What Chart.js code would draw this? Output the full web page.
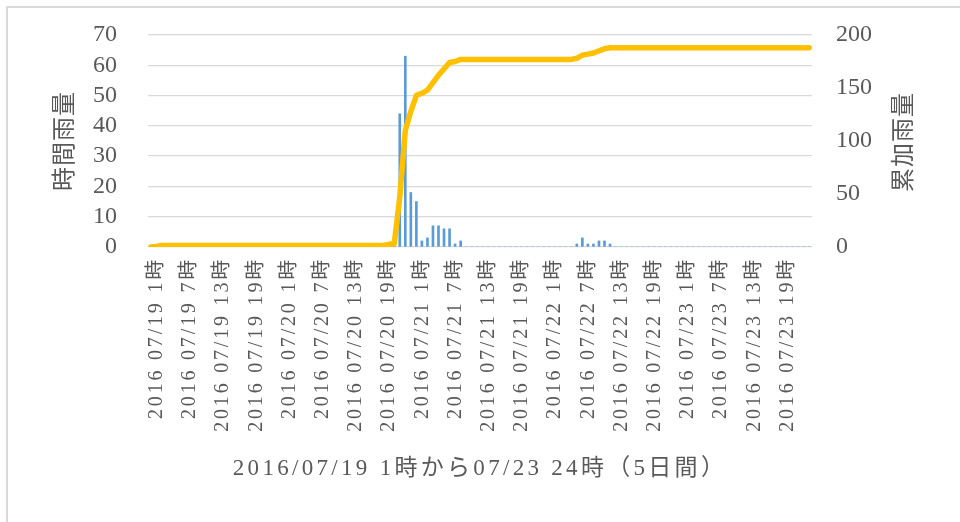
<!DOCTYPE html>
<html>
<head>
<meta charset="utf-8">
<script src="https://cdn.jsdelivr.net/npm/chart.js@4/dist/chart.umd.min.js"></script>
<style>
  html, body { margin: 0; padding: 0; background: #fff; }
  #wrap { position: relative; width: 960px; height: 522px; }
  #frame { position: absolute; left: 6px; top: 6px; right: -4px; bottom: -4px;
           border-left: 2px solid #d9d9d9; border-top: 2px solid #d9d9d9; }
  canvas { position: absolute; left: 0; top: 0; }
</style>
</head>
<body>
<div id="wrap">
  <div id="frame"></div>
  <canvas id="chart" width="960" height="522"></canvas>
</div>
<script>
// 2016/07/19 1時 - 07/23 24時, hourly
const days = ['07/19', '07/20', '07/21', '07/22', '07/23'];
const hoursPerDay = 24;

// 時間雨量 (mm), one row per day, hours 1..24
const hourlyRain = [
  0, 0.5, 1, 0, 0, 0, 0, 0, 0, 0, 0, 0, 0, 0, 0, 0, 0, 0, 0, 0, 0, 0, 0, 0,
  0, 0, 0, 0, 0, 0, 0, 0, 0, 0, 0, 0, 0, 0, 0, 0, 0, 0, 0, 1, 0.5, 44, 63, 18,
  15, 2, 3, 7, 7, 6, 6, 1, 2, 0, 0, 0, 0, 0, 0, 0, 0, 0, 0, 0, 0, 0, 0, 0,
  0, 0, 0, 0, 0, 1, 3, 1, 1, 2, 2, 1, 0, 0, 0, 0, 0, 0, 0, 0, 0, 0, 0, 0,
  0, 0, 0, 0, 0, 0, 0, 0, 0, 0, 0, 0, 0, 0, 0, 0, 0, 0, 0, 0, 0, 0, 0, 0,
];

// 累加雨量 (mm)
const cumulativeRain = [
  0, 0.5, 1.5, 1.5, 1.5, 1.5, 1.5, 1.5, 1.5, 1.5, 1.5, 1.5, 1.5, 1.5, 1.5, 1.5, 1.5, 1.5, 1.5, 1.5, 1.5, 1.5, 1.5, 1.5,
  1.5, 1.5, 1.5, 1.5, 1.5, 1.5, 1.5, 1.5, 1.5, 1.5, 1.5, 1.5, 1.5, 1.5, 1.5, 1.5, 1.5, 1.5, 1.5, 2.5, 3, 47, 110, 128,
  143, 145, 148, 155, 162, 168, 174, 175, 177, 177, 177, 177, 177, 177, 177, 177, 177, 177, 177, 177, 177, 177, 177, 177,
  177, 177, 177, 177, 177, 178, 181, 182, 183, 185, 187, 188, 188, 188, 188, 188, 188, 188, 188, 188, 188, 188, 188, 188,
  188, 188, 188, 188, 188, 188, 188, 188, 188, 188, 188, 188, 188, 188, 188, 188, 188, 188, 188, 188, 188, 188, 188, 188,
];

const leftTicks = [0, 10, 20, 30, 40, 50, 60, 70];
const rightTicks = [0, 50, 100, 150, 200];

const labels = [];
days.forEach(d => {
  for (let h = 1; h <= hoursPerDay; h++) labels.push('2016 ' + d + ' ' + h + '時');
});

const FONT = "'Liberation Serif', 'Noto Sans CJK JP', serif";
const GREY = '#595959';

// give a scale's text some letter spacing (the original font is wide)
function spaced(scale, px, parts) {
  const ctx = scale.ctx;
  parts.forEach(fn => {
    const orig = scale[fn];
    if (orig._spaced) return;
    const wrapped = function (...args) {
      ctx.save();
      ctx.letterSpacing = px;
      orig.apply(this, args);
      ctx.restore();
    };
    wrapped._spaced = true;
    scale[fn] = wrapped;
  });
}

// big tick padding would otherwise push the plot top down
function fitY(s, w) {
  s.width = w;
  s.paddingTop = 15;
  s.paddingBottom = 15;
}

const rightTitle = {
  id: 'rightTitle',
  afterDraw(chart) {
    const { ctx, chartArea } = chart;
    ctx.save();
    ctx.translate(chartArea.right + 93, (chartArea.top + chartArea.bottom) / 2 + 1);
    ctx.rotate(-Math.PI / 2);
    ctx.font = '24px ' + FONT;
    ctx.letterSpacing = '1px';
    ctx.fillStyle = GREY;
    ctx.textAlign = 'center';
    ctx.textBaseline = 'middle';
    ctx.fillText('累加雨量', 0, 0);
    ctx.restore();
  }
};

new Chart(document.getElementById('chart'), {
  type: 'bar',
  data: {
    labels: labels,
    datasets: [
      {
        type: 'line',
        label: '累加雨量',
        data: cumulativeRain,
        yAxisID: 'y1',
        borderColor: '#FFC000',
        borderWidth: 5.5,
        borderCapStyle: 'round',
        borderJoinStyle: 'round',
        pointRadius: 0,
        tension: 0,
        order: 0,
      },
      {
        label: '時間雨量',
        data: hourlyRain,
        yAxisID: 'y',
        backgroundColor: '#5B9BD5',
        barThickness: 2,
        order: 1,
      },
    ],
  },
  options: {
    responsive: false,
    animation: false,
    layout: { padding: { top: 35, left: 40, right: 30, bottom: 25 } },
    plugins: { legend: { display: false }, tooltip: { enabled: false } },
    scales: {
      x: {
        grid: { display: false },
        border: { display: false },
        ticks: {
          autoSkip: false,
          maxRotation: 90,
          minRotation: 90,
          padding: 2,
          labelOffset: 6,
          color: GREY,
          font: { family: FONT, size: 20 },
          callback: function (v, i) { return i % 6 === 0 ? this.getLabelForValue(v) : ''; },
        },
        title: {
          display: true,
          text: '2016/07/19 1時から07/23 24時（5日間）',
          color: GREY,
          font: { family: FONT, size: 23 },
          padding: { top: 0, bottom: 14 },
        },
        afterFit: s => { s.height = 250; spaced(s, '3.3px', ['drawTitle']); spaced(s, '2.8px', ['drawLabels']); },
      },
      y: {
        position: 'left',
        min: 0,
        max: 70,
        afterBuildTicks: s => { s.ticks = leftTicks.map(v => ({ value: v })); },
        grid: { color: '#d9d9d9', lineWidth: 1.3, drawTicks: false },
        border: { display: false },
        ticks: { autoSkip: false, padding: 31, color: GREY, font: { family: FONT, size: 24 } },
        title: {
          display: true,
          text: '時間雨量',
          color: GREY,
          font: { family: FONT, size: 24 },
          padding: { top: 11, bottom: 0 },
        },
        afterFit: s => { fitY(s, 108); spaced(s, '1px', ['drawTitle']); },
      },
      y1: {
        position: 'right',
        min: 0,
        max: 200,
        afterBuildTicks: s => { s.ticks = rightTicks.map(v => ({ value: v })); },
        grid: { display: false, drawTicks: false },
        border: { display: false },
        ticks: { autoSkip: false, padding: 24, color: GREY, font: { family: FONT, size: 24 } },
        afterFit: s => { fitY(s, 118); },
      },
    },
  },
  plugins: [rightTitle],
});
</script>
</body>
</html>
